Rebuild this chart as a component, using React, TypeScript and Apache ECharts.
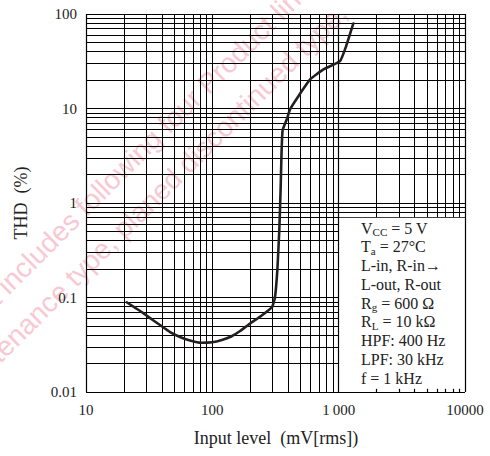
import React, { useEffect, useRef } from "react";
import * as echarts from "echarts";

// ---- data ----
const inputLevel = [21, 24.4, 28.3, 33.3, 38.5, 46.3, 55.5, 66.5, 81.4, 99.4, 119, 141, 166, 199, 243, 297, 313, 327, 339, 347, 353, 360, 388, 412, 480, 594, 757, 1025, 1145, 1307];
const thd = [0.089, 0.078, 0.0686, 0.0585, 0.0512, 0.0431, 0.0382, 0.0351, 0.0332, 0.0336, 0.0355, 0.0387, 0.0442, 0.0531, 0.0637, 0.0794, 0.1, 0.195, 0.518, 1.37, 3.38, 5.9, 7.65, 9.8, 13.5, 20.3, 25.9, 31.7, 45.6, 79.4];

const xTickLabels = ["10", "100", "1\u2009000", "10000"];
const yTickLabels = ["0.01", "0.1", "1", "10", "100"];
const xDecades = [10, 100, 1000];
const yDecades = [0.01, 0.1, 1, 10];
const multipliers = [1, 2, 3, 4, 5, 6, 7, 8, 9];

const X_MIN = 10, X_MAX = 10000, Y_MIN = 0.01, Y_MAX = 100;
const BOX_X = 1000, BOX_TOP = 0.7;
const tickXs = [2000, 3000, 4000, 5000, 6000, 7000, 8000, 9000];

const conditions = [
  "V{s|CC} = 5 V",
  "T{s|a} = 27°C",
  "L-in, R-in\u2192",
  "L-out, R-out",
  "R{s|g} = 600 \u03A9",
  "R{s|L} = 10 k\u03A9",
  "HPF: 400 Hz",
  "LPF: 30 kHz",
  "f = 1 kHz",
];

const SERIF = '"Liberation Serif", "Times New Roman", serif';
const SANS = '"Liberation Sans", Arial, sans-serif';
const PINK = "#f8c9d3";

export default function App() {
  const ref = useRef<HTMLDivElement>(null);
  useEffect(() => {
    if (!ref.current) return;
    const chart = echarts.init(ref.current, undefined, { renderer: "svg" });

    const xs: number[] = [];
    xDecades.forEach((d) => multipliers.forEach((m) => xs.push(+(d * m).toPrecision(3))));
    xs.push(X_MAX);
    const ys: number[] = [];
    yDecades.forEach((d) => multipliers.forEach((m) => ys.push(+(d * m).toPrecision(3))));
    ys.push(Y_MAX);

    const gridLines: any[] = [];
    xs.forEach((x) => gridLines.push([{ coord: [x, Y_MIN] }, { coord: [x, Y_MAX] }]));
    ys.forEach((y) => gridLines.push([{ coord: [X_MIN, y] }, { coord: [X_MAX, y] }]));

    const borderLines: any[] = [
      [{ coord: [X_MIN, Y_MIN] }, { coord: [X_MAX, Y_MIN] }],
      [{ coord: [X_MIN, Y_MAX] }, { coord: [X_MAX, Y_MAX] }],
      [{ coord: [X_MIN, Y_MIN] }, { coord: [X_MIN, Y_MAX] }],
      [{ coord: [X_MAX, Y_MIN] }, { coord: [X_MAX, Y_MAX] }],
      [{ coord: [BOX_X, Y_MIN] }, { coord: [BOX_X, Y_MAX] }],
    ];
    tickXs.forEach((x) => borderLines.push([{ coord: [x, Y_MIN] }, { coord: [x, 0.0108] }]));

    const markLineBase = {
      silent: true,
      symbol: ["none", "none"],
      label: { show: false },
      emphasis: { disabled: true },
    };

    const wm = (text: string, x: number, y: number, align: string) => ({
      type: "text", x, y, rotation: Math.PI / 4, z: 0, silent: true,
      style: { text, fontFamily: SANS, fontSize: 28, fill: PINK, align, verticalAlign: "middle" },
    });

    const graphics: any[] = [
      wm("includes following four Product lines", 2, 289, "left"),
      wm("This product ", 2, 289, "right"),
      wm("enance type, planed discontinued type,", -1, 352, "left"),
      wm("maint", -1, 352, "right"),
      { type: "text", x: 276, y: 438, z: 10, silent: true,
        style: { text: "Input level\u2002(mV[rms])", fontFamily: SERIF, fontSize: 18, fill: "#222", align: "center", verticalAlign: "middle" } },
      { type: "text", x: 21, y: 203, rotation: Math.PI / 2, z: 10, silent: true,
        style: { text: "THD\u2002(%)", fontFamily: SERIF, fontSize: 18, fill: "#222", align: "center", verticalAlign: "middle" } },
    ];
    conditions.forEach((t, i) => {
      graphics.push({
        type: "text", x: 361, y: 228 + i * 18.75, z: 20, silent: true,
        style: {
          text: t, fontFamily: SERIF, fontSize: 16, fill: "#222", align: "left", verticalAlign: "middle", lineHeight: 19,
          rich: { s: { fontSize: 11, fontFamily: SERIF, fill: "#222", verticalAlign: "bottom", lineHeight: 13 } },
        },
      });
    });

    chart.setOption({
      animation: false,
      backgroundColor: "#fff",
      grid: { left: 86, right: 25, top: 14, bottom: 64, containLabel: false },
      xAxis: {
        type: "log", logBase: 10, min: X_MIN, max: X_MAX,
        axisLine: { show: false }, axisTick: { show: false }, splitLine: { show: false },
        axisLabel: {
          margin: 10, fontFamily: SERIF, fontSize: 15, color: "#222",
          formatter: (v: number) => xTickLabels[Math.round(Math.log10(v)) - 1] ?? "",
        },
      },
      yAxis: {
        type: "log", logBase: 10, min: Y_MIN, max: Y_MAX,
        axisLine: { show: false }, axisTick: { show: false }, splitLine: { show: false },
        axisLabel: {
          margin: 9, fontFamily: SERIF, fontSize: 15, color: "#222",
          formatter: (v: number) => yTickLabels[Math.round(Math.log10(v)) + 2] ?? "",
        },
      },
      graphic: { elements: graphics },
      series: [
        {
          type: "line", z: 1, data: [], silent: true,
          markLine: { ...markLineBase, z: 1, lineStyle: { color: "#000", width: 1, type: "solid", opacity: 1 }, data: gridLines },
        },
        {
          type: "line", z: 2, data: [], silent: true,
          markArea: { silent: true, z: 2, itemStyle: { color: "#fff", opacity: 1, borderWidth: 0 }, emphasis: { disabled: true },
            data: [[{ coord: [BOX_X, Y_MIN] }, { coord: [X_MAX, BOX_TOP] }]] },
        },
        {
          type: "line", z: 3, data: [], silent: true,
          markLine: { ...markLineBase, z: 3, lineStyle: { color: "#000", width: 1.2, type: "solid", opacity: 1 }, data: borderLines },
        },
        {
          type: "line", z: 4, silent: true,
          data: inputLevel.map((x, i) => [x, thd[i]]),
          showSymbol: false, symbol: "none",
          smooth: 0.12,
          lineStyle: { color: "#231f20", width: 2.6, join: "round", cap: "round" },
        },
      ],
    });
    return () => chart.dispose();
  }, []);
  return <div ref={ref} style={{ position: "fixed", left: 0, top: 0, width: 490, height: 456, background: "#fff" }} />;
}
